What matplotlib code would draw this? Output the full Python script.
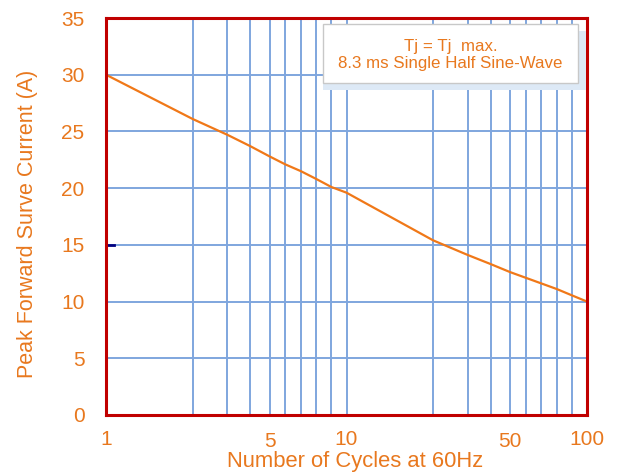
import numpy as np
import matplotlib
matplotlib.use("Agg")
import matplotlib.pyplot as plt
from matplotlib.patches import Rectangle

plt.rcParams["font.family"] = ["Liberation Sans", "DejaVu Sans"]

# surge current curve
cycles = [1, 2, 3, 4, 5, 6, 7, 8, 9, 10, 20, 30, 40, 50, 60, 70, 80, 90, 100]
current = [30.0, 26.1, 24.7, 23.7, 22.8, 22.1, 21.5, 20.8, 20.1, 19.6,
           15.4, 14.1, 13.3, 12.6, 12.1, 11.6, 11.1, 10.55, 10.0]

major_x = [1, 10, 100]
minor_x = [2, 3, 4, 5, 6, 7, 8, 9, 20, 30, 40, 50, 60, 70, 80, 90]
minor_labels = {5: "5", 50: "50"}
y_ticks = [0, 5, 10, 15, 20, 25, 30, 35]

legend_lines = ["Tj = Tj  max.", "8.3 ms Single Half Sine-Wave"]
x_label = "Number of Cycles at 60Hz"
y_label = "Peak Forward Surve Current (A)"

ORANGE = "#E8781E"
LINE = "#F07818"
GRID = "#7FA6DE"
BORDER = "#C00000"

# the printed log paper is not a true log grid: where each mantissa sits in a decade
MANT = np.array([1, 2, 3, 4, 5, 6, 7, 8, 9, 10], dtype=float)
FRAC = np.array([0, 0.36, 0.505, 0.60, 0.68, 0.745, 0.81, 0.875, 0.937, 1.0])


def forward(x):
    x = np.clip(np.asarray(x, dtype=float), 1e-12, None)
    lx = np.log10(x)
    d = np.floor(lx + 1e-12)
    m = 10 ** (lx - d)
    return d + np.interp(m, MANT, FRAC)


def inverse(y):
    y = np.asarray(y, dtype=float)
    d = np.floor(y + 1e-12)
    m = np.interp(y - d, FRAC, MANT)
    return 10 ** d * m


fig = plt.figure(figsize=(6.19, 4.75), dpi=100)
ax = fig.add_axes([106 / 619, 1 - 415 / 475, (587 - 106) / 619, (415 - 18) / 475])
ax.set_xscale("function", functions=(forward, inverse))
ax.set_xlim(1, 100)
ax.set_ylim(0, 35)

ax.plot(cycles, current, color=LINE, lw=1.6, zorder=3)

ax.set_xticks(major_x)
ax.set_xticklabels([str(v) for v in major_x])
ax.set_xticks(minor_x, minor=True)
ax.set_xticklabels([minor_labels.get(v, "") for v in minor_x], minor=True)
ax.set_yticks(y_ticks)

ax.tick_params(axis="x", which="major", length=0, pad=10.5, labelsize=15, labelcolor=ORANGE)
ax.tick_params(axis="x", which="minor", length=0, pad=12, labelsize=15, labelcolor=ORANGE)
ax.tick_params(axis="y", length=0, pad=15.5, labelsize=15, labelcolor=ORANGE)

ax.grid(True, which="both", axis="x", color=GRID, lw=1.4)
ax.grid(True, which="major", axis="y", color=GRID, lw=1.4)
ax.set_axisbelow(True)
ax.axhline(15, xmin=0, xmax=0.016, color="#000080", lw=2, zorder=2)

for s in ax.spines.values():
    s.set_color(BORDER)
    s.set_linewidth(2.2)
    s.set_zorder(4)

ax.set_xlabel(x_label, color=ORANGE, fontsize=15.8, va="center")
ax.xaxis.set_label_coords(0.518, -0.118)
ax.set_ylabel(y_label, color=ORANGE, fontsize=15.5, va="center")
ax.yaxis.set_label_coords(-0.164, 0.481)

# annotation box with its pale shadow
bx0, bx1 = (323 - 106) / 481, (578 - 106) / 481
by0, by1 = (415 - 83) / 397, (415 - 24) / 397
ax.add_patch(Rectangle((bx0, by0 - 0.018), bx1 - bx0 + 0.016, by1 - by0,
                       transform=ax.transAxes, facecolor="#DDE9F6",
                       edgecolor="none", zorder=5))
ax.add_patch(Rectangle((bx0, by0), bx1 - bx0, by1 - by0, transform=ax.transAxes,
                       facecolor="white", edgecolor="#C8C8C8", lw=1, zorder=6))
ax.text((bx0 + bx1) / 2, (by0 + by1) / 2 - 0.003, "\n".join(legend_lines),
        transform=ax.transAxes, ha="center", va="center", color=ORANGE,
        fontsize=12.2, linespacing=1.15, zorder=7)

fig.savefig("out.png", dpi=100)
